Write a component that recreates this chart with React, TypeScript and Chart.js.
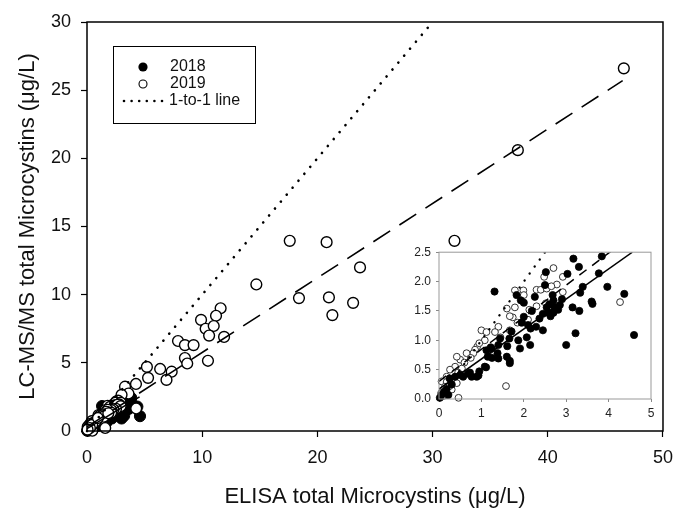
import React, { useEffect, useRef } from 'react';
import { Chart, registerables } from 'chart.js';
Chart.register(...registerables);

const FONT = '"Liberation Sans", Arial, Helvetica, sans-serif';

// 2018 samples: [ELISA, LC-MS/MS] (µg/L)
const data2018: [number, number][] = [
  [1.31, 1.83], [3.17, 2.39], [3.3, 2.25], [2.52, 2.16], [3.03, 2.13], [3.84, 2.43], [3.77, 2.14],
  [3.39, 1.91], [3.33, 1.81], [3.97, 1.91], [4.37, 1.79], [3.6, 1.66], [3.62, 1.62], [3.15, 1.56],
  [3.31, 1.5], [3.22, 1.12], [3.0, 0.92], [4.6, 1.09], [2.5, 1.94], [1.83, 1.77], [1.93, 1.68],
  [2.0, 1.64], [2.26, 1.74], [2.68, 1.77], [2.7, 1.68], [2.6, 1.61], [2.72, 1.57], [2.54, 1.56],
  [2.58, 1.47], [2.7, 1.47], [2.81, 1.52], [2.63, 1.41], [2.19, 1.5], [2.37, 1.37], [2.1, 1.26],
  [2.29, 1.23], [2.16, 1.2], [2.45, 1.17], [2.07, 1.05], [2.15, 0.92], [1.87, 1.0], [1.71, 1.15],
  [1.66, 1.03], [1.91, 0.86], [1.61, 0.9], [1.44, 1.03], [1.4, 0.92], [1.22, 0.88], [1.24, 0.86],
  [1.15, 0.72], [1.25, 0.7], [1.38, 0.78], [1.6, 0.72], [1.67, 0.65], [1.11, 0.54], [0.89, 0.38],
  [0.95, 0.47], [0.77, 0.38], [0.68, 0.43], [0.57, 0.38], [0.5, 0.41], [0.38, 0.38], [0.93, 0.4],
  [0.73, 0.45], [0.18, 0.17], [0.06, 0.07], [0.22, 0.07], [0.02, 0.02], [0.3, 0.25], [1.08, 0.55],
  [1.4, 0.69], [1.67, 0.61], [1.12, 0.83], [2.0, 1.4], [2.45, 1.45], [2.85, 1.6], [2.9, 1.7],
  [1.95, 1.3], [0.12, 0.12], [0.25, 0.35]
];

// 2019 samples: [ELISA, LC-MS/MS] (µg/L)
const data2019: [number, number][] = [
  [46.6, 26.6], [37.4, 20.6], [31.9, 13.95], [17.6, 13.95], [20.8, 13.85], [23.7, 12.0], [14.7, 10.75],
  [18.4, 9.75], [21.0, 9.8], [23.1, 9.4], [21.3, 8.5], [11.6, 9.0], [9.9, 8.15], [11.2, 8.45],
  [10.3, 7.5], [11.0, 7.7], [10.6, 7.0], [11.9, 6.9], [10.5, 5.15], [7.9, 6.6], [8.5, 6.3],
  [9.25, 6.3], [8.5, 5.35], [8.7, 4.95], [6.35, 4.55], [7.35, 4.35], [6.9, 3.75], [5.2, 4.7],
  [5.3, 3.9], [4.25, 3.45], [3.3, 3.25], [3.6, 2.75], [3.0, 2.65],
  [2.7, 2.23], [2.48, 2.08], [2.92, 2.08], [2.78, 1.95], [2.3, 1.86], [1.99, 1.85], [1.79, 1.85],
  [2.0, 1.77], [2.4, 1.86], [2.54, 1.88], [2.65, 1.92], [2.92, 1.82], [2.52, 1.63], [2.3, 1.58],
  [2.13, 1.52], [1.6, 1.54], [1.79, 1.56], [1.74, 1.39], [1.67, 1.41], [1.4, 1.23], [1.67, 1.17],
  [1.0, 1.17], [1.12, 1.14], [1.32, 1.14], [1.08, 1.0], [0.9, 0.89], [0.85, 0.84], [1.2, 0.83],
  [0.81, 0.78], [0.65, 0.78], [0.5, 0.67], [0.42, 0.72], [0.54, 0.52], [0.38, 0.55], [0.26, 0.5],
  [0.18, 0.38], [0.06, 0.3], [0.34, 0.33], [0.42, 0.27], [0.18, 0.29], [0.14, 0.21], [0.3, 0.16],
  [0.18, 0.07], [0.1, 0.05], [0.46, 0.02], [1.58, 0.22], [4.27, 1.65], [0.6, 0.62], [0.75, 0.7],
  [0.45, 0.45], [0.25, 0.22], [0.05, 0.1], [1.45, 1.05], [2.1, 1.35], [1.85, 1.3], [0.95, 0.95]
];

// line end points
const oneToOneLine: [number, number][] = [[0, 0], [30, 30]];
const fit2019Line: [number, number][] = [[0, 0.3], [46.5, 25.7]];
const fit2018Line: [number, number][] = [[0, 0.17], [4.56, 2.5]];

const mainXTicks = [0, 10, 20, 30, 40, 50];
const mainYTicks = [0, 5, 10, 15, 20, 25, 30];
const insetXTicks = [0, 1, 2, 3, 4, 5];
const insetYTicks = [0, 0.5, 1.0, 1.5, 2.0, 2.5];
const legendLabels = ['2018', '2019', '1-to-1 line'];
const xTitle = 'ELISA total Microcystins (\u03BCg/L)';
const yTitle = 'LC-MS/MS total Microcystins (\u03BCg/L)';

const toPts = (arr: [number, number][]) => arr.map(([x, y]) => ({ x, y }));

const framePlugin = (color: string, width: number) => ({
  id: 'frame',
  afterDraw(chart: any) {
    const { ctx, chartArea: a } = chart;
    ctx.save();
    ctx.strokeStyle = color;
    ctx.lineWidth = width;
    ctx.strokeRect(a.left, a.top, a.right - a.left, a.bottom - a.top);
    ctx.restore();
  }
});

const legendPlugin = {
  id: 'boxLegend',
  afterDraw(chart: any) {
    const ctx = chart.ctx;
    ctx.save();
    ctx.strokeStyle = '#000';
    ctx.lineWidth = 1;
    ctx.strokeRect(113.5, 46.5, 142, 77);
    ctx.font = `16px ${FONT}`;
    ctx.textBaseline = 'middle';
    ctx.textAlign = 'left';
    ctx.fillStyle = '#000';
    ctx.beginPath();
    ctx.arc(143, 67, 4.6, 0, Math.PI * 2);
    ctx.fill();
    ctx.fillStyle = '#111';
    ctx.fillText(legendLabels[0], 170, 67);
    ctx.beginPath();
    ctx.arc(143, 84, 4, 0, Math.PI * 2);
    ctx.fillStyle = '#fff';
    ctx.fill();
    ctx.lineWidth = 1.1;
    ctx.stroke();
    ctx.fillStyle = '#111';
    ctx.fillText(legendLabels[1], 170, 84);
    ctx.fillStyle = '#000';
    for (let i = 0; i < 6; i++) {
      ctx.beginPath();
      ctx.arc(124 + i * 7.6, 101, 1.3, 0, Math.PI * 2);
      ctx.fill();
    }
    ctx.fillStyle = '#111';
    ctx.fillText(legendLabels[2], 169, 101);
    ctx.restore();
  }
};

export default function App() {
  const mainRef = useRef<HTMLCanvasElement>(null);
  const insetRef = useRef<HTMLCanvasElement>(null);

  useEffect(() => {
    const main = new Chart(mainRef.current as HTMLCanvasElement, {
      type: 'scatter',
      data: {
        datasets: [
          { label: '1-to-1', data: toPts(oneToOneLine), showLine: true, pointRadius: 0, borderColor: '#000', borderWidth: 2.6, borderDash: [0.1, 9], borderCapStyle: 'round', order: 0, clip: false } as any,
          { label: 'fit2019', data: toPts(fit2019Line), showLine: true, pointRadius: 0, borderColor: '#000', borderWidth: 1.6, borderDash: [20, 11], order: 0, clip: false } as any,
          { label: 'fit2018', data: toPts(fit2018Line), showLine: true, pointRadius: 0, borderColor: '#000', borderWidth: 1.6, order: 0, clip: false } as any,
          { label: '2019', data: toPts(data2019), pointRadius: 5.4, pointBackgroundColor: '#fff', pointBorderColor: '#000', pointBorderWidth: 1.4, order: 1, clip: false } as any,
          { label: '2018', data: toPts(data2018), pointRadius: 5.6, pointBackgroundColor: '#000', pointBorderColor: '#000', pointBorderWidth: 1, order: 2, clip: false } as any
        ]
      },
      options: {
        animation: false,
        responsive: false,
        maintainAspectRatio: false,
        devicePixelRatio: 1,
        layout: { padding: { left: 0, top: 22, right: 12, bottom: 0 } },
        plugins: { legend: { display: false }, tooltip: { enabled: false } },
        scales: {
          x: {
            type: 'linear', min: 0, max: 50, position: 'bottom',
            afterBuildTicks: (s: any) => { s.ticks = mainXTicks.map(v => ({ value: v })); },
            afterFit: (s: any) => { s.height = 508 - 431; },
            ticks: { font: { family: FONT, size: 18 }, color: '#111', padding: 10, maxRotation: 0 },
            grid: { drawOnChartArea: false, drawTicks: true, tickLength: 6, tickWidth: 1.2, tickColor: '#000' },
            border: { display: false },
            title: { display: true, text: xTitle, font: { family: FONT, size: 22, lineHeight: 1 }, color: '#111', padding: 0 }
          },
          y: {
            type: 'linear', min: 0, max: 30, position: 'left',
            afterBuildTicks: (s: any) => { s.ticks = mainYTicks.map(v => ({ value: v })); },
            afterFit: (s: any) => { s.width = 87; },
            ticks: { font: { family: FONT, size: 18 }, color: '#111', padding: 10 },
            grid: { drawOnChartArea: false, drawTicks: true, tickLength: 6, tickWidth: 1.2, tickColor: '#000' },
            border: { display: false },
            title: { display: true, text: yTitle, font: { family: FONT, size: 22, lineHeight: 1 }, color: '#111', padding: { top: 17, bottom: 0 } }
          }
        }
      } as any,
      plugins: [framePlugin('#000', 1.5), legendPlugin]
    });

    const inRange = (arr: [number, number][]) => arr.filter(([x, y]) => x <= 5 && y <= 2.5);

    const inset = new Chart(insetRef.current as HTMLCanvasElement, {
      type: 'scatter',
      data: {
        datasets: [
          { label: '1-to-1', data: toPts(oneToOneLine), showLine: true, pointRadius: 0, borderColor: '#000', borderWidth: 2.3, borderDash: [0.1, 8.5], borderCapStyle: 'round', order: 0 } as any,
          { label: 'fit2019', data: toPts(fit2019Line), showLine: true, pointRadius: 0, borderColor: '#000', borderWidth: 1.5, borderDash: [9, 7], order: 0 } as any,
          { label: 'fit2018', data: toPts(fit2018Line), showLine: true, pointRadius: 0, borderColor: '#000', borderWidth: 1.5, order: 0 } as any,
          { label: '2018', data: toPts(inRange(data2018)), pointRadius: 3.6, pointBackgroundColor: '#000', pointBorderColor: '#000', pointBorderWidth: 0.8, order: 1, clip: false } as any,
          { label: '2019', data: toPts(inRange(data2019)), pointRadius: 3.4, pointBackgroundColor: '#fff', pointBorderColor: '#333', pointBorderWidth: 1, order: 2, clip: false } as any
        ]
      },
      options: {
        animation: false,
        responsive: false,
        maintainAspectRatio: false,
        devicePixelRatio: 1,
        layout: { padding: { left: 0, top: 12, right: 20, bottom: 0 } },
        plugins: { legend: { display: false }, tooltip: { enabled: false } },
        scales: {
          x: {
            type: 'linear', min: 0, max: 5, position: 'bottom',
            afterBuildTicks: (s: any) => { s.ticks = insetXTicks.map(v => ({ value: v })); },
            afterFit: (s: any) => { s.height = 31; },
            ticks: { font: { family: FONT, size: 12 }, color: '#222', padding: 4, maxRotation: 0 },
            grid: { drawOnChartArea: false, drawTicks: true, tickLength: 3, tickWidth: 1, tickColor: '#888' },
            border: { display: false }
          },
          y: {
            type: 'linear', min: 0, max: 2.5, position: 'left',
            afterBuildTicks: (s: any) => { s.ticks = insetYTicks.map(v => ({ value: v })); },
            afterFit: (s: any) => { s.width = 39; },
            ticks: { font: { family: FONT, size: 12 }, color: '#222', padding: 5, callback: (v: any) => Number(v).toFixed(1) },
            grid: { drawOnChartArea: false, drawTicks: true, tickLength: 3, tickWidth: 1, tickColor: '#888' },
            border: { display: false }
          }
        }
      } as any,
      plugins: [framePlugin('#999', 1)]
    });

    return () => { main.destroy(); inset.destroy(); };
  }, []);

  return (
    <div style={{ position: 'absolute', left: 0, top: 0, width: 683, height: 508, background: '#fff' }}>
      <canvas ref={mainRef} width={683} height={508} style={{ position: 'absolute', left: 0, top: 0, width: 683, height: 508 }} />
      <canvas ref={insetRef} width={271} height={190} style={{ position: 'absolute', left: 400, top: 240, width: 271, height: 190 }} />
    </div>
  );
}
